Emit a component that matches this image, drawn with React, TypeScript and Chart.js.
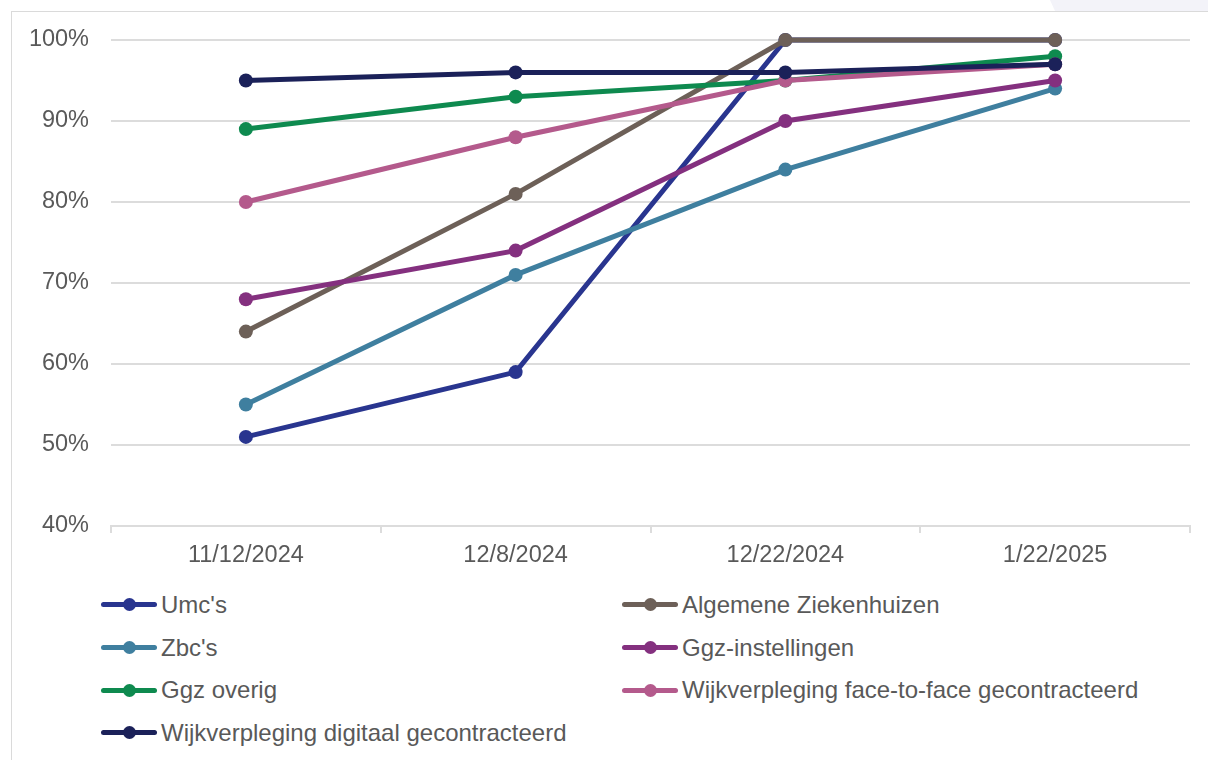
import React, { useEffect, useRef } from "react";
import { Chart, registerables } from "chart.js";

Chart.register(...registerables);

const categories = ["11/12/2024", "12/8/2024", "12/22/2024", "1/22/2025"];

const seriesNames = [
  "Umc's",
  "Algemene Ziekenhuizen",
  "Zbc's",
  "Ggz-instellingen",
  "Ggz overig",
  "Wijkverpleging face-to-face gecontracteerd",
  "Wijkverpleging digitaal gecontracteerd",
];

const umcs = [51, 59, 100, 100];
const algemeneZiekenhuizen = [64, 81, 100, 100];
const zbcs = [55, 71, 84, 94];
const ggzInstellingen = [68, 74, 90, 95];
const ggzOverig = [89, 93, 95, 98];
const wijkFaceToFace = [80, 88, 95, 97];
const wijkDigitaal = [95, 96, 96, 97];

const seriesValues = [umcs, algemeneZiekenhuizen, zbcs, ggzInstellingen, ggzOverig, wijkFaceToFace, wijkDigitaal];

const seriesColors = ["#29358f", "#6d6058", "#3f7f9f", "#84307f", "#0e8a4f", "#b45a8c", "#1b2159"];

const yTicks = [40, 50, 60, 70, 80, 90, 100];

const FONT = "'Liberation Sans', Arial, sans-serif";
const TEXT = "#595959";
const GRID = "#dcdcdc";

export default function App() {
  const canvasRef = useRef<HTMLCanvasElement | null>(null);

  useEffect(() => {
    const canvas = canvasRef.current;
    if (!canvas) return;
    const n = seriesNames.length;
    const chart = new Chart(canvas, {
      type: "line",
      data: {
        labels: categories,
        datasets: seriesNames.map((name, i) => ({
          label: name,
          data: seriesValues[i],
          borderColor: seriesColors[i],
          backgroundColor: seriesColors[i],
          pointBackgroundColor: seriesColors[i],
          pointBorderColor: seriesColors[i],
          pointBorderWidth: 0,
          pointRadius: 7,
          borderWidth: 5,
          tension: 0,
          fill: false,
          clip: false as any,
          order: n - i,
        })),
      },
      options: {
        animation: false,
        responsive: false,
        maintainAspectRatio: false,
        devicePixelRatio: 1,
        layout: { padding: { left: 0, right: 18, top: 40, bottom: 0 } },
        plugins: {
          legend: { display: false },
          tooltip: { enabled: false },
          title: { display: false },
        },
        scales: {
          x: {
            type: "category",
            offset: true,
            grid: {
              offset: true,
              drawOnChartArea: false,
              drawTicks: true,
              tickLength: 7,
              color: GRID,
              lineWidth: 2,
            },
            border: { display: true, color: GRID, width: 2 },
            ticks: {
              color: TEXT,
              font: { family: FONT, size: 23.5 },
              padding: 8,
              maxRotation: 0,
              autoSkip: false,
            },
            afterFit: (scale: any) => {
              scale.height = 54;
            },
          },
          y: {
            type: "linear",
            min: 40,
            max: 100,
            afterBuildTicks: (scale: any) => {
              scale.ticks = yTicks.map((v) => ({ value: v }));
            },
            grid: {
              drawTicks: false,
              color: GRID,
              lineWidth: 2,
            },
            border: { display: false },
            ticks: {
              color: TEXT,
              font: { family: FONT, size: 23.5 },
              padding: 22,
              callback: (v: any) => `${v}%`,
            },
            afterFit: (scale: any) => {
              scale.width = 111;
            },
          },
        },
      },
    });
    return () => chart.destroy();
  }, []);

  const rowH = 42.67;

  return (
    <div style={{ position: "fixed", inset: 0, overflow: "hidden", background: "#ffffff", fontFamily: FONT }}>
      <div
        style={{
          position: "absolute",
          left: 1050,
          top: 0,
          width: 158,
          height: 11,
          background: "#f3f3f9",
          clipPath: "polygon(0 0, 100% 0, 100% 100%, 5px 100%)",
        }}
      />
      <div
        style={{
          position: "absolute",
          left: 11,
          top: 11,
          width: 1300,
          height: 900,
          borderTop: "1px solid #dadada",
          borderLeft: "1px solid #dadada",
        }}
      />
      <canvas
        ref={canvasRef}
        width={1208}
        height={580}
        style={{ position: "absolute", left: 0, top: 0, width: 1208, height: 580 }}
      />
      <div
        style={{
          position: "absolute",
          left: 101,
          top: 605 - rowH / 2,
          display: "grid",
          gridTemplateColumns: "521px auto",
          gridAutoRows: `${rowH}px`,
          alignItems: "center",
        }}
      >
        {seriesNames.map((name, i) => (
          <div key={name} style={{ display: "flex", alignItems: "center", whiteSpace: "nowrap" }}>
            <div style={{ position: "relative", width: 56, height: 13, flex: "0 0 56px" }}>
              <div
                style={{
                  position: "absolute",
                  left: 0,
                  top: 4,
                  width: 56,
                  height: 5,
                  borderRadius: 2.5,
                  background: seriesColors[i],
                }}
              />
              <div
                style={{
                  position: "absolute",
                  left: 21.5,
                  top: 0,
                  width: 13,
                  height: 13,
                  borderRadius: "50%",
                  background: seriesColors[i],
                }}
              />
            </div>
            <span style={{ marginLeft: 4, fontSize: 24, color: TEXT, lineHeight: "28px" }}>{name}</span>
          </div>
        ))}
      </div>
    </div>
  );
}
